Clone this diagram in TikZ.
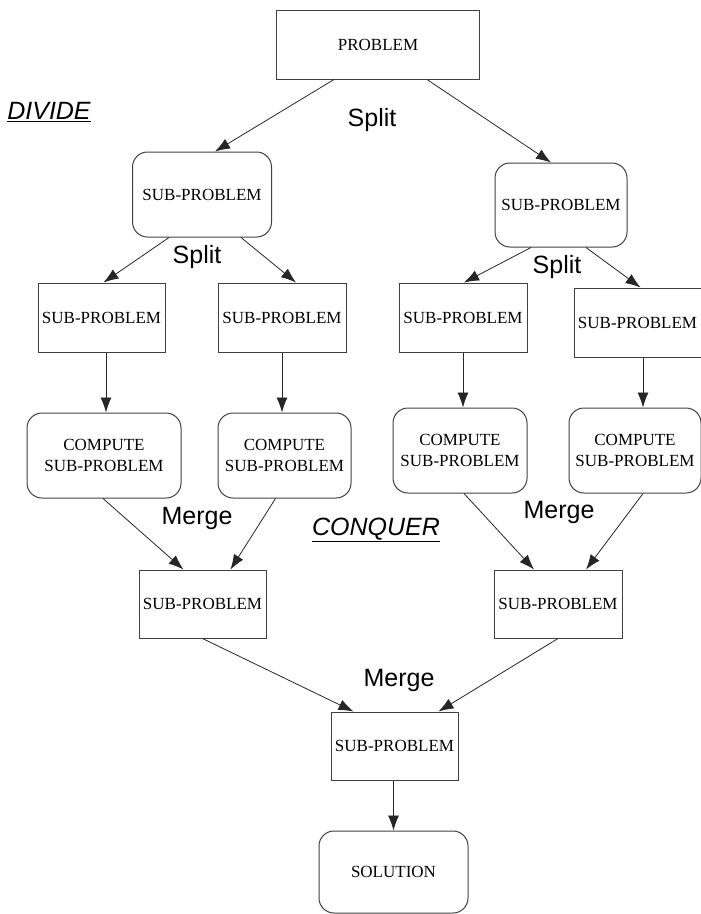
\documentclass[tikz,border=0pt]{standalone}
\usepackage{fontspec}
\setmainfont{Liberation Serif}
\setsansfont{Liberation Sans}
\usetikzlibrary{arrows.meta}
\tikzset{
  sqbox/.style={draw=black!75,line width=1pt,inner sep=0pt,align=center,
    font=\fontsize{17}{21}\selectfont},
  rdbox/.style={sqbox,rounded corners=15pt},
  flow/.style={-{Latex[length=15pt,width=11pt]},line width=0.8pt,black!85},
  lbl/.style={font=\sffamily\fontsize{25}{28}\selectfont},
  phase/.style={font=\sffamily\itshape\fontsize{25}{28}\selectfont}, % divide / conquer
}

\begin{document}
\begin{tikzpicture}[x=1pt,y=1pt]
  \useasboundingbox (0,0) rectangle (701,-914);
  % divide: splitting
  \node[sqbox,minimum width=203pt,minimum height=69pt] (prob) at (378,-44.5) {PROBLEM};
  \node[rdbox,minimum width=139pt,minimum height=85pt] (subL) at (202,-194.5) {SUB-PROBLEM};
  \node[rdbox,minimum width=132pt,minimum height=84pt] (subR) at (561,-205) {SUB-PROBLEM};
  \node[sqbox,minimum width=127pt,minimum height=69pt] (a1) at (101.5,-317.5) {SUB-PROBLEM};
  \node[sqbox,minimum width=128pt,minimum height=69pt] (a2) at (282,-317.5) {SUB-PROBLEM};
  \node[sqbox,minimum width=128pt,minimum height=69pt] (a3) at (463,-317.5) {SUB-PROBLEM};
  \node[sqbox,minimum width=127pt,minimum height=69pt] (a4) at (637.5,-322.5) {SUB-PROBLEM};
  % conquer: computing
  \node[rdbox,minimum width=154pt,minimum height=85pt] (c1) at (104,-455.5) {COMPUTE\\SUB-PROBLEM};
  \node[rdbox,minimum width=133pt,minimum height=85pt] (c2) at (284.5,-455.5) {COMPUTE\\SUB-PROBLEM};
  \node[rdbox,minimum width=134pt,minimum height=85pt] (c3) at (460,-450.5) {COMPUTE\\SUB-PROBLEM};
  \node[rdbox,minimum width=132pt,minimum height=85pt] (c4) at (635,-450.5) {COMPUTE\\SUB-PROBLEM};
  % merging
  \node[sqbox,minimum width=127pt,minimum height=68pt] (m1) at (202.5,-604) {SUB-PROBLEM};
  \node[sqbox,minimum width=128pt,minimum height=68pt] (m2) at (558,-604) {SUB-PROBLEM};
  \node[sqbox,minimum width=127pt,minimum height=68pt] (fin) at (394.5,-746) {SUB-PROBLEM};
  \node[rdbox,minimum width=149pt,minimum height=82pt] (sol) at (393.5,-872) {SOLUTION};

  \draw[flow] ([xshift=-44pt]prob.south) -- ([xshift=13pt]subL.north);
  \draw[flow] ([xshift=49pt]prob.south) -- ([xshift=-10pt]subR.north);
  \draw[flow] ([xshift=-33pt]subL.south) -- ([xshift=2pt]a1.north);
  \draw[flow] ([xshift=39pt]subL.south) -- ([xshift=14pt]a2.north);
  \draw[flow] ([xshift=-30pt]subR.south) -- ([xshift=1pt]a3.north);
  \draw[flow] ([xshift=25pt]subR.south) -- ([xshift=3pt]a4.north);
  \draw[flow] ([xshift=4.5pt]a1.south) -- ([xshift=2pt]c1.north);
  \draw[flow] (a2.south) -- ([xshift=-2.5pt]c2.north);
  \draw[flow] (a3.south) -- ([xshift=3pt]c3.north);
  \draw[flow] ([xshift=5.5pt]a4.south) -- ([xshift=8pt]c4.north);
  \draw[flow] ([xshift=-1pt]c1.south) -- ([xshift=-19pt]m1.north);
  \draw[flow] ([xshift=-9pt]c2.south) -- ([xshift=28pt]m1.north);
  \draw[flow] ([xshift=4pt]c3.south) -- ([xshift=-24pt]m2.north);
  \draw[flow] ([xshift=8pt]c4.south) -- ([xshift=28pt]m2.north);
  \draw[flow] (m1.south) -- ([xshift=-41pt]fin.north);
  \draw[flow] (m2.south) -- ([xshift=44pt]fin.north);
  \draw[flow] ([xshift=-1pt]fin.south) -- (sol.north);

  \node[lbl] (sp1) at (372,-120) {Split};
  \node[lbl] (sp2) at (197,-257) {Split};
  \node[lbl] (sp3) at (557,-267) {Split};
  \node[lbl] (mg1) at (197,-518) {Merge};
  \node[lbl] (mg2) at (559,-512) {Merge};
  \node[lbl] (mg3) at (399,-680) {Merge};
  \node[phase] (div) at (49,-112) {\underline{DIVIDE}};
  \node[phase] (conq) at (376,-530) {\underline{CONQUER}};
\end{tikzpicture}
\end{document}
